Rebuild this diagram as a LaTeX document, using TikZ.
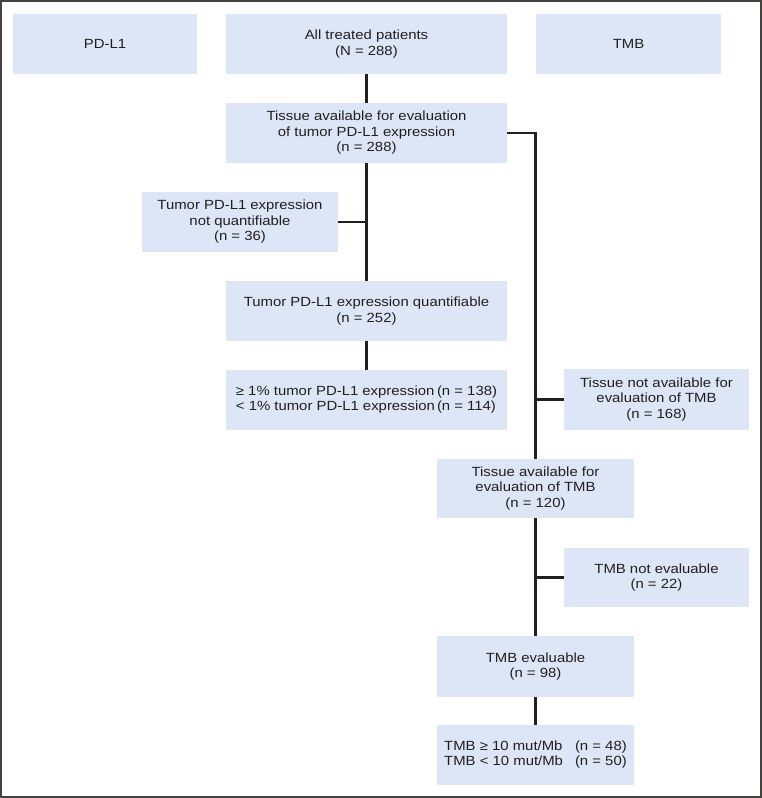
\documentclass[tikz,border=0pt]{standalone}
\usepackage{fontspec}
\setmainfont{Liberation Sans}[FakeStretch=1.12]
\definecolor{boxfill}{RGB}{220,230,246}
\definecolor{ink}{RGB}{35,31,32}
\begin{document}
\begin{tikzpicture}[x=1pt,y=-1pt,
  fbox/.style={fill=boxfill, draw=none, inner sep=0pt, align=center, text=ink,
    font=\fontsize{13.3}{15.5}\selectfont},
  link/.style={draw=ink, line width=2.4pt}]
\useasboundingbox (0,0) rectangle (762,798);
\draw[draw=ink!85, line width=1.5pt] (1,1) rectangle (761,797);

\node[fbox, minimum width=184pt, minimum height=60pt] (pdl1) at (105,44) {PD-L1};
\node[fbox, minimum width=281pt, minimum height=60pt] (all) at (366.5,44) {All treated patients\\(N = 288)};
\node[fbox, minimum width=185pt, minimum height=60pt] (tmb) at (628.5,44) {TMB};
\node[fbox, minimum width=281pt, minimum height=60pt] (tissue) at (366.5,133) {Tissue available for evaluation\\of tumor PD-L1 expression\\(n = 288)};
\node[fbox, minimum width=196pt, minimum height=60pt] (notq) at (240,222) {Tumor PD-L1 expression\\not quantifiable\\(n = 36)};
\node[fbox, minimum width=281pt, minimum height=60pt] (quant) at (366.5,311) {Tumor PD-L1 expression quantifiable\\(n = 252)};
\node[fbox, minimum width=281pt, minimum height=60pt] (pct) at (366.5,400) {\begin{tabular}{@{}l@{\hspace{2pt}}l@{}}≥ 1\% tumor PD-L1 expression & (n = 138)\\< 1\% tumor PD-L1 expression & (n = 114)\end{tabular}};
\node[fbox, minimum width=185pt, minimum height=61pt] (tnot) at (656.5,399.5) {Tissue not available for\\evaluation of TMB\\(n = 168)};
\node[fbox, minimum width=197pt, minimum height=59pt] (tav) at (535.5,488.5) {Tissue available for\\evaluation of TMB\\(n = 120)};
\node[fbox, minimum width=185pt, minimum height=59pt] (tmbne) at (656.5,577.5) {TMB not evaluable\\(n = 22)};
\node[fbox, minimum width=197pt, minimum height=61pt] (tmbe) at (535.5,666.5) {TMB evaluable\\(n = 98)};
\node[fbox, minimum width=197pt, minimum height=60pt] (final) at (535.5,755) {\begin{tabular}{@{}l@{\hspace{12pt}}l@{}}TMB ≥ 10 mut/Mb & (n = 48)\\TMB < 10 mut/Mb & (n = 50)\end{tabular}};

\draw[link] (all.south) -- (tissue.north);
\draw[link] (tissue.south) -- (quant.north);
\draw[link] (notq.east) -- (notq.east -| tissue.south);
\draw[link] (quant.south) -- (pct.north);
\draw[link] (tissue.east) -| (tav.north);
\draw[link] (tnot.west) -- (tnot.west -| tav.north);
\draw[link] (tav.south) -- (tmbe.north);
\draw[link] (tmbne.west) -- (tmbne.west -| tav.south);
\draw[link] (tmbe.south) -- (final.north);
\end{tikzpicture}
\end{document}
